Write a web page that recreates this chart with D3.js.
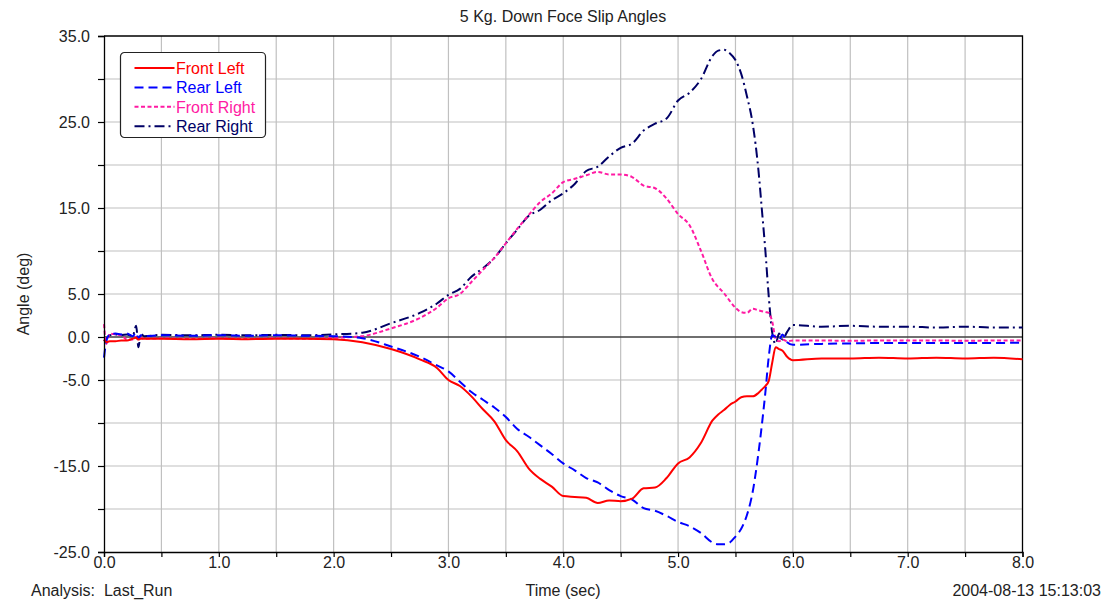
<!DOCTYPE html>
<html>
<head>
<meta charset="utf-8">
<script src="https://cdn.jsdelivr.net/npm/d3@7/dist/d3.min.js"></script>
<style>
    body { margin: 0; background: #fff; }
    svg { font-family: "Liberation Sans", Arial, sans-serif; }
</style>
</head>
<body>
<div id="chart"></div>
<script>

// time samples (sec), shared by all four series
var times = [0, 0.02, 0.05, 0.1, 0.15, 0.2, 0.25, 0.28, 0.3, 0.32, 0.35, 0.5, 0.75, 1.0, 1.25, 1.5, 1.75,
    2.0, 2.25, 2.5, 2.75, 2.9, 3.0, 3.1, 3.2, 3.3, 3.4, 3.5, 3.6, 3.7, 3.8, 3.9, 4.0, 4.1, 4.2, 4.3, 4.4,
    4.5, 4.6, 4.7, 4.8, 4.9, 5.0, 5.1, 5.2, 5.3, 5.35, 5.4, 5.45, 5.5, 5.55, 5.6, 5.65, 5.7, 5.73, 5.76,
    5.79, 5.82, 5.85, 5.88, 5.91, 5.95, 6.0, 6.25, 6.5, 6.75, 7.0, 7.25, 7.5, 7.75, 8.0];

var frontLeft = [-0.3, -0.6, -0.5, -0.5, -0.4, -0.4, -0.2, -0.1, -0.3, -0.2, -0.2, -0.2, -0.25, -0.2, -0.25, -0.2, -0.2,
    -0.25, -0.6, -1.4, -2.6, -3.6, -5.0, -5.7, -6.9, -8.4, -9.8, -12.0, -13.3, -15.3, -16.5, -17.4, -18.5, -18.6, -18.7, -19.3, -19.0,
    -19.1, -18.8, -17.6, -17.5, -16.4, -14.7, -14.0, -12.3, -9.7, -9.0, -8.5, -7.9, -7.5, -7.0, -6.9, -6.9, -6.5, -6.1, -5.7,
    -5.1, -3.0, -1.2, -1.4, -1.6, -2.3, -2.7, -2.5, -2.5, -2.4, -2.5, -2.4, -2.5, -2.4, -2.6];

var rearLeft = [-2.4, -0.5, 0.3, 0.4, 0.3, 0.4, 0.1, 0.5, -0.2, 0.2, 0.1, 0.2, 0.15, 0.2, 0.15, 0.2, 0.15,
    0.1, -0.15, -1.1, -2.3, -3.3, -4.0, -5.2, -6.4, -7.3, -8.2, -9.3, -10.7, -11.6, -12.6, -13.6, -14.7, -15.5, -16.4, -16.9, -17.8,
    -18.5, -18.9, -19.9, -20.2, -20.8, -21.5, -22.0, -22.8, -23.9, -24.1, -24.1, -23.9, -23.2, -22.3, -20.7, -18.0, -13.5, -10.2, -6.5,
    -2.3, 0.2, 0.0, -0.3, 0.3, -0.6, -0.9, -0.8, -0.75, -0.7, -0.7, -0.7, -0.7, -0.7, -0.65];

var frontRight = [1.5, -0.8, 0.4, 0.3, 0.2, -0.3, -0.3, 0.0, -0.3, -0.1, -0.2, -0.15, -0.2, -0.15, -0.2, -0.15, -0.2,
    -0.1, 0.1, 1.0, 2.2, 3.4, 4.5, 5.0, 6.4, 7.8, 9.2, 10.9, 12.6, 14.2, 15.7, 16.7, 18.0, 18.4, 18.8, 19.2, 18.9,
    18.9, 18.6, 17.6, 17.3, 16.1, 14.3, 13.0, 10.0, 6.7, 5.8, 5.1, 4.2, 3.4, 2.9, 2.8, 3.3, 3.1, 3.0, 2.9,
    2.8, 1.8, -0.2, -0.5, -0.3, -0.5, -0.4, -0.4, -0.45, -0.4, -0.4, -0.4, -0.45, -0.4, -0.4];

var rearRight = [-0.5, -0.2, 0.2, 0.3, 0.2, 0.3, 0.1, 1.3, -1.2, 0.4, 0.1, 0.25, 0.2, 0.25, 0.2, 0.25, 0.2,
    0.3, 0.5, 1.6, 2.8, 3.9, 4.9, 5.6, 7.0, 8.0, 9.2, 10.9, 12.5, 14.1, 14.8, 15.9, 16.7, 17.8, 19.3, 19.8, 21.0,
    22.0, 22.5, 24.0, 24.8, 25.4, 27.5, 28.4, 30.0, 32.7, 33.3, 33.4, 33.0, 32.2, 30.6, 28.0, 24.8, 19.4, 14.8, 10.1,
    4.7, 0.5, -0.8, 0.4, -0.3, 0.6, 1.4, 1.2, 1.3, 1.2, 1.2, 1.1, 1.2, 1.1, 1.1];

var seriesNames = ["Front Left", "Rear Left", "Front Right", "Rear Right"];
var xTickLabels = [0, 1, 2, 3, 4, 5, 6, 7, 8];
var yTickLabels = [35, 25, 15, 5, 0, -5, -15, -25];

var chartTitle = "5 Kg. Down Foce Slip Angles";
var xTitle = "Time (sec)";
var yTitle = "Angle (deg)";
var footLeft = "Analysis:  Last_Run";
var footRight = "2004-08-13 15:13:03";

var totalWidth = 1115;
var totalHeight = 601;
var margin = { top: 36, right: 92.5, bottom: 49, left: 104 };
var width = totalWidth - margin.left - margin.right;
var height = totalHeight - margin.top - margin.bottom;

var styles = [
    { color: "#ff0000", dash: null },
    { color: "#0000ff", dash: "9,5" },
    { color: "#ff1aa3", dash: "4,2.5" },
    { color: "#000066", dash: "10,4,2,4" }
];

var seriesValues = [frontLeft, rearLeft, frontRight, rearRight];
var series = seriesNames.map(function (name, i) {
    return {
        name: name,
        style: styles[i],
        points: times.map(function (t, j) { return { x: t, y: seriesValues[i][j] }; })
    };
});

var svg = d3.select("#chart").append("svg")
    .attr("width", totalWidth)
    .attr("height", totalHeight);

var xScale = d3.scaleLinear().domain([0, 8]).range([0, width]);
var yScale = d3.scaleLinear().domain([-25, 35]).range([height, 0]);

var g = svg.append("g")
    .attr("transform", "translate(" + margin.left + "," + margin.top + ")");

// grid
g.append("g").selectAll("line")
    .data(d3.range(0.5, 8, 0.5))
    .enter().append("line")
    .attr("x1", function (d) { return xScale(d); })
    .attr("x2", function (d) { return xScale(d); })
    .attr("y1", 0).attr("y2", height)
    .attr("stroke", "#c0c0c0").attr("stroke-width", 1.2);

g.append("g").selectAll("line")
    .data(d3.range(-20, 35, 5))
    .enter().append("line")
    .attr("x1", 0).attr("x2", width)
    .attr("y1", function (d) { return yScale(d); })
    .attr("y2", function (d) { return yScale(d); })
    .attr("stroke", "#c0c0c0").attr("stroke-width", 1.2);

// zero line
g.append("line")
    .attr("x1", 0).attr("x2", width)
    .attr("y1", yScale(0)).attr("y2", yScale(0))
    .attr("stroke", "#000").attr("stroke-width", 1.2);

// top and right border
g.append("path")
    .attr("d", "M0,0H" + width + "V" + height)
    .attr("fill", "none").attr("stroke", "#000").attr("stroke-width", 1.3);

// series
var line = d3.line()
    .x(function (d) { return xScale(d.x); })
    .y(function (d) { return yScale(d.y); })
    .curve(d3.curveMonotoneX);

g.append("g").selectAll("path")
    .data(series.slice().reverse())
    .enter().append("path")
    .attr("d", function (d) { return line(d.points); })
    .attr("fill", "none")
    .attr("stroke", function (d) { return d.style.color; })
    .attr("stroke-width", 2)
    .attr("stroke-dasharray", function (d) { return d.style.dash; });

// axes
var xAxis = d3.axisBottom(xScale)
    .tickValues(d3.range(0, 8.01, 0.5))
    .tickSize(5)
    .tickFormat(function (d) { return xTickLabels.indexOf(d) >= 0 ? d.toFixed(1) : ""; });

var yAxis = d3.axisLeft(yScale)
    .tickValues(d3.range(-25, 36, 5))
    .tickSize(6)
    .tickFormat(function (d) { return yTickLabels.indexOf(d) >= 0 ? d.toFixed(1) : ""; });

var gx = g.append("g")
    .attr("transform", "translate(0," + height + ")")
    .call(xAxis);

var gy = g.append("g").call(yAxis);

[gx, gy].forEach(function (a) {
    a.select(".domain").attr("stroke", "#000").attr("stroke-width", 1.3);
    a.selectAll(".tick line").attr("stroke", "#000").attr("stroke-width", 1.2);
    a.selectAll(".tick text")
        .attr("font-size", 16)
        .attr("fill", "#222")
        .attr("font-family", "Liberation Sans, Arial, sans-serif");
});
gx.selectAll(".tick text").attr("dy", "0.6em").attr("y", 6);
gy.selectAll(".tick text").attr("x", -14).attr("dy", "0.36em");

// titles
svg.append("text")
    .attr("x", 563).attr("y", 22)
    .attr("text-anchor", "middle")
    .attr("font-size", 16).attr("fill", "#222")
    .text(chartTitle);

svg.append("text")
    .attr("transform", "translate(29," + (margin.top + height / 2) + ") rotate(-90)")
    .attr("text-anchor", "middle")
    .attr("font-size", 16).attr("fill", "#222")
    .text(yTitle);

svg.append("text")
    .attr("x", 563).attr("y", 596)
    .attr("text-anchor", "middle")
    .attr("font-size", 16).attr("fill", "#222")
    .text(xTitle);

svg.append("text")
    .attr("x", 31).attr("y", 596)
    .attr("font-size", 16).attr("fill", "#222")
    .attr("xml:space", "preserve")
    .style("white-space", "pre")
    .text(footLeft);

svg.append("text")
    .attr("x", 1101).attr("y", 596)
    .attr("text-anchor", "end")
    .attr("font-size", 16).attr("fill", "#222")
    .text(footRight);

// legend
var legend = svg.append("g").attr("transform", "translate(120.5,52.5)");

legend.append("rect")
    .attr("width", 145).attr("height", 85)
    .attr("rx", 4).attr("ry", 4)
    .attr("fill", "#fff")
    .attr("stroke", "#222").attr("stroke-width", 1.2);

var items = legend.selectAll("g.item")
    .data(series)
    .enter().append("g")
    .attr("class", "item")
    .attr("transform", function (d, i) { return "translate(0," + (15.5 + i * 19.4) + ")"; });

items.append("line")
    .attr("x1", 14).attr("x2", 54)
    .attr("stroke", function (d) { return d.style.color; })
    .attr("stroke-width", 2)
    .attr("stroke-dasharray", function (d) { return d.style.dash; });

items.append("text")
    .attr("x", 55.5).attr("dy", "0.36em")
    .attr("font-size", 16)
    .attr("fill", function (d) { return d.style.color; })
    .text(function (d) { return d.name; });

</script>
</body>
</html>
